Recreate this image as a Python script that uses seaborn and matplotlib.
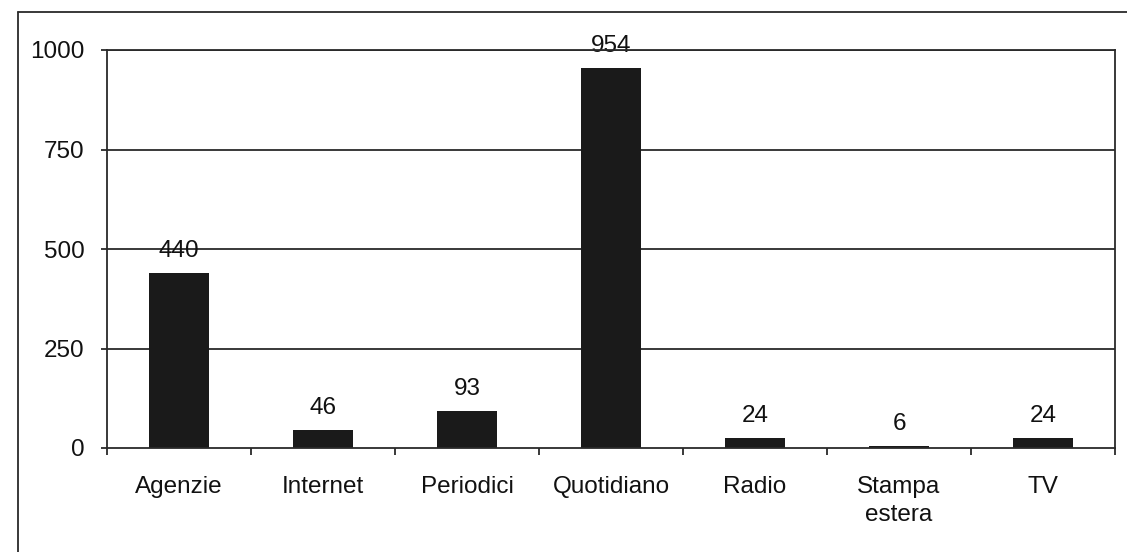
import numpy as np
import seaborn as sns
import matplotlib.pyplot as plt
import pandas as pd
from matplotlib.lines import Line2D

categories = ['Agenzie', 'Internet', 'Periodici', 'Quotidiano', 'Radio', 'Stampa\nestera', 'TV']
values = [440, 46, 93, 954, 24, 6, 24]
yticks = [0, 250, 500, 750, 1000]

df = pd.DataFrame({'fonte': categories, 'n': values})

sns.set_theme(style='white')
plt.rcParams['font.family'] = ['Liberation Sans', 'DejaVu Sans']

fig = plt.figure(figsize=(11.27, 5.52), dpi=100)
ax = fig.add_axes([107 / 1127, 1 - 448 / 552, (1115 - 107) / 1127, (448 - 50) / 552])

sns.barplot(data=df, x='fonte', y='n', color='#1a1a1a', saturation=1, width=0.42,
            linewidth=0, zorder=3, ax=ax)

ax.set_ylim(0, 1000)
ax.set_xlim(-0.5, len(categories) - 0.5)
ax.set_yticks(yticks)
ax.set_yticklabels([str(t) for t in yticks], fontsize=17.5, color='#111111')
ax.set_xlabel('')
ax.set_ylabel('')

# gridlines
for t in yticks[1:]:
    ax.axhline(t, color='#2a2a2a', linewidth=1.3, zorder=1)

# category labels at centres, tick marks at boundaries
ax.set_xticks(range(len(categories)))
ax.set_xticklabels(categories, fontsize=17.5, color='#111111', linespacing=1.35)
ax.set_xticks(np.arange(-0.5, len(categories), 1), minor=True)
ax.tick_params(axis='x', which='major', length=0, pad=20)
ax.tick_params(axis='x', which='minor', length=5, width=1.3, color='#2a2a2a', direction='out', bottom=True)
ax.tick_params(axis='y', length=4, width=1.3, color='#2a2a2a', direction='out', left=True, pad=12)

for s in ax.spines.values():
    s.set_color('#2a2a2a')
    s.set_linewidth(1.3)
    s.set_zorder(4)

# value labels
for i, v in enumerate(values):
    ax.annotate(str(v), (i, v), xytext=(0, 8), textcoords='offset points',
                ha='center', va='bottom', fontsize=17.5, color='#111111')

# outer frame around the chart (cropped at right and bottom)
fx, fy = 18 / 1127, 1 - 12 / 552
fig.add_artist(Line2D([fx, fx], [0, fy], transform=fig.transFigure, color='#2a2a2a', linewidth=1.3))
fig.add_artist(Line2D([fx, 1], [fy, fy], transform=fig.transFigure, color='#2a2a2a', linewidth=1.3))

fig.savefig('out.png', dpi=100)
